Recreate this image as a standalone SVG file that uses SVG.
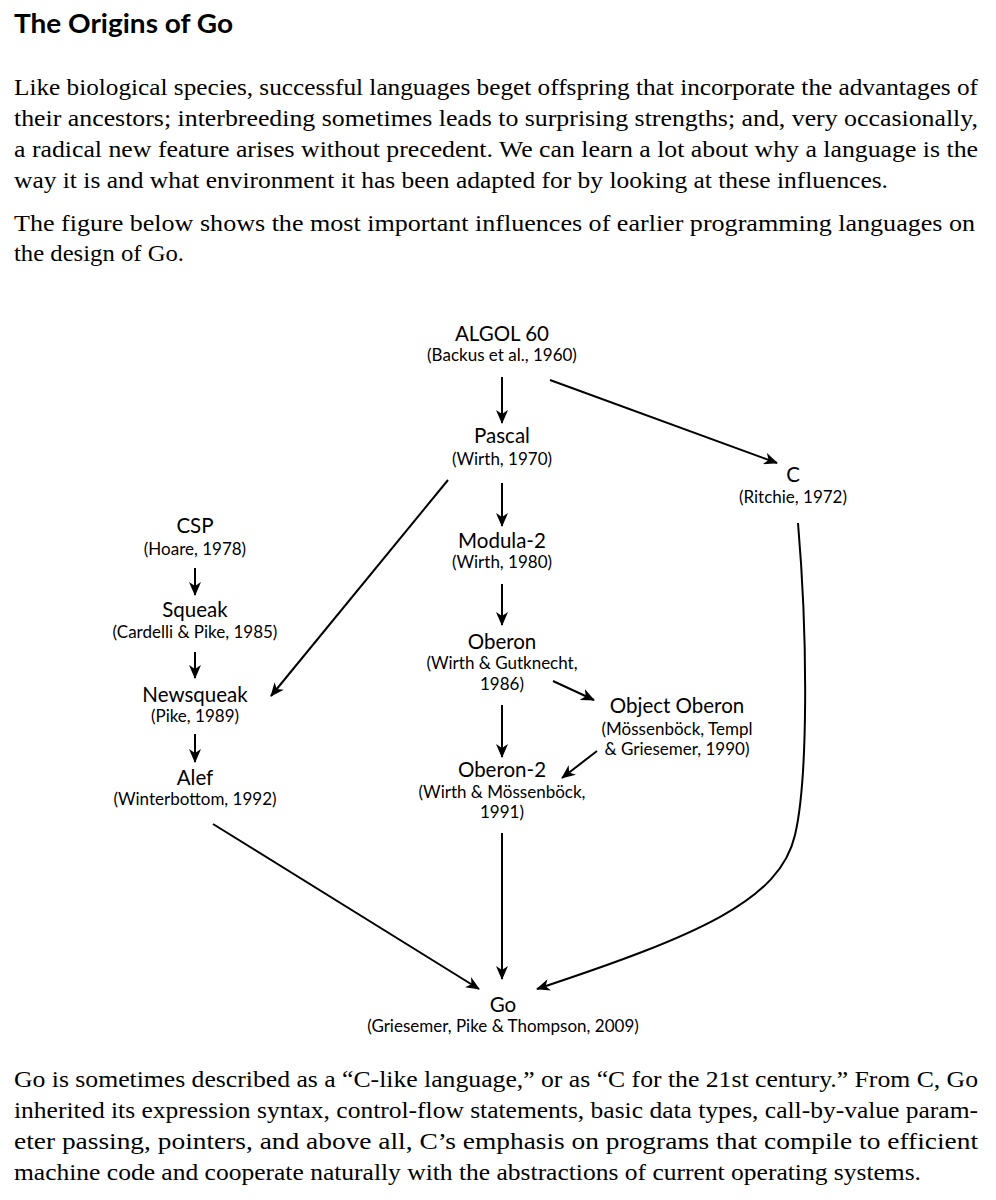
<svg xmlns="http://www.w3.org/2000/svg" width="996" height="1200" viewBox="0 0 996 1200">
<style>
.title{font-family:Lato,"Liberation Sans",sans-serif;font-weight:bold;font-size:27px;fill:#000}
.body{font-family:"Liberation Serif","Times New Roman",serif;font-size:24px;fill:#000}
.nt{font-family:Lato,"Liberation Sans",sans-serif;font-size:20.5px;fill:#000;text-anchor:middle}
.ns{font-family:Lato,"Liberation Sans",sans-serif;font-size:17px;fill:#000;text-anchor:middle}
.edge{fill:none;stroke:#000;stroke-width:2;marker-end:url(#ah)}
</style>
<defs>
<marker id="ah" markerUnits="userSpaceOnUse" viewBox="0 0 14 12" refX="13" refY="6" markerWidth="14" markerHeight="12" orient="auto">
<path d="M0,0 L14,6 L0,12 L4,6 z" fill="#000"/>
</marker>
</defs>
<rect width="996" height="1200" fill="#fff"/>
<text class="title" x="14" y="33" textLength="219" lengthAdjust="spacingAndGlyphs">The Origins of Go</text>
<g id="intro">
<text class="body" x="14" y="95" textLength="964" lengthAdjust="spacingAndGlyphs">Like biological species, successful languages beget offspring that incorporate the advantages of</text>
<text class="body" x="14" y="126" textLength="964" lengthAdjust="spacingAndGlyphs">their ancestors; interbreeding sometimes leads to surprising strengths; and, very occasionally,</text>
<text class="body" x="14" y="157" textLength="964" lengthAdjust="spacingAndGlyphs">a radical new feature arises without precedent.  We can learn a lot about why a language is the</text>
<text class="body" x="14" y="188" textLength="874" lengthAdjust="spacingAndGlyphs">way it is and what environment it has been adapted for by looking at these influences.</text>
<text class="body" x="14" y="231" textLength="961" lengthAdjust="spacingAndGlyphs">The figure below shows the most important influences of earlier programming languages on</text>
<text class="body" x="14" y="261" textLength="170" lengthAdjust="spacingAndGlyphs">the design of Go.</text>
</g>
<g id="connectors">
<path class="edge" d="M502,377 L502,423"/>
<path class="edge" d="M550,380 L777,463"/>
<path class="edge" d="M502,483 L502,526"/>
<path class="edge" d="M448,480 L271,696"/>
<path class="edge" d="M502,584 L502,625"/>
<path class="edge" d="M553,681 L594,700"/>
<path class="edge" d="M502,705 L502,757"/>
<path class="edge" d="M597,751 L562,778"/>
<path class="edge" d="M502,833 L502,979"/>
<path class="edge" d="M195,568 L195,595"/>
<path class="edge" d="M195,652 L195,678"/>
<path class="edge" d="M195,734 L195,762"/>
<path class="edge" d="M213,824 L479,989"/>
<path class="edge" d="M798,523 C808,640 808,780 795,835 C780,900 700,935 537,989"/>
</g>
<g id="algol60"><text class="nt" x="502" y="341">ALGOL 60</text><text class="ns" x="502" y="361">(Backus et al., 1960)</text></g>
<g id="pascal"><text class="nt" x="502" y="443">Pascal</text><text class="ns" x="502" y="465">(Wirth, 1970)</text></g>
<g id="c"><text class="nt" x="793" y="482">C</text><text class="ns" x="793" y="503">(Ritchie, 1972)</text></g>
<g id="modula2"><text class="nt" x="502" y="548">Modula-2</text><text class="ns" x="502" y="568">(Wirth, 1980)</text></g>
<g id="oberon"><text class="nt" x="502" y="649">Oberon</text><text class="ns" x="502" y="669">(Wirth &amp; Gutknecht,</text><text class="ns" x="502" y="690">1986)</text></g>
<g id="objectoberon"><text class="nt" x="677" y="713">Object Oberon</text><text class="ns" x="677" y="735">(Mössenböck, Templ</text><text class="ns" x="677" y="755">&amp; Griesemer, 1990)</text></g>
<g id="oberon2"><text class="nt" x="502" y="777">Oberon-2</text><text class="ns" x="502" y="798">(Wirth &amp; Mössenböck,</text><text class="ns" x="502" y="818">1991)</text></g>
<g id="csp"><text class="nt" x="195" y="533">CSP</text><text class="ns" x="195" y="555">(Hoare, 1978)</text></g>
<g id="squeak"><text class="nt" x="195" y="617">Squeak</text><text class="ns" x="195" y="638">(Cardelli &amp; Pike, 1985)</text></g>
<g id="newsqueak"><text class="nt" x="195" y="702">Newsqueak</text><text class="ns" x="195" y="722">(Pike, 1989)</text></g>
<g id="alef"><text class="nt" x="195" y="785">Alef</text><text class="ns" x="195" y="805">(Winterbottom, 1992)</text></g>
<g id="go"><text class="nt" x="503" y="1012">Go</text><text class="ns" x="503" y="1032">(Griesemer, Pike &amp; Thompson, 2009)</text></g>
<g id="outro">
<text class="body" x="14" y="1087" textLength="964" lengthAdjust="spacingAndGlyphs">Go is sometimes described as a “C-like language,” or as “C for the 21st century.”  From C, Go</text>
<text class="body" x="14" y="1118" textLength="964" lengthAdjust="spacingAndGlyphs">inherited its expression syntax, control-flow statements, basic data types, call-by-value param-</text>
<text class="body" x="14" y="1149" textLength="964" lengthAdjust="spacingAndGlyphs">eter passing, pointers, and above all, C’s emphasis on programs that compile to efficient</text>
<text class="body" x="14" y="1180" textLength="907" lengthAdjust="spacingAndGlyphs">machine code and cooperate naturally with the abstractions of current operating systems.</text>
</g>
</svg>
